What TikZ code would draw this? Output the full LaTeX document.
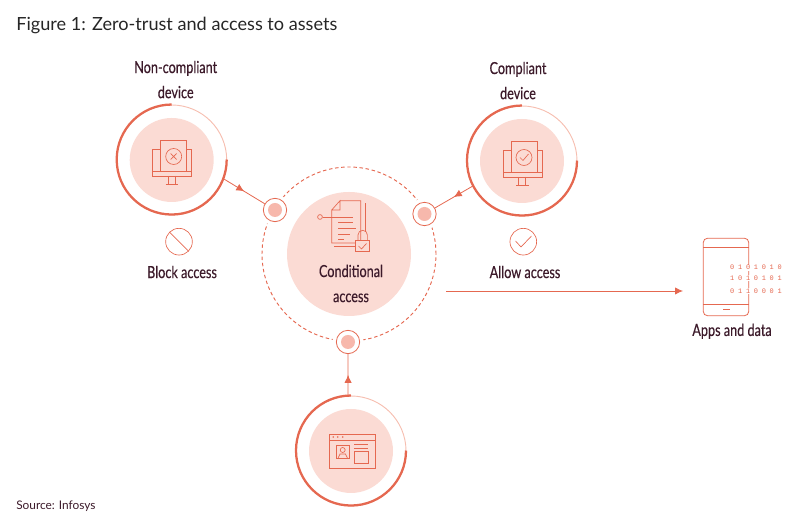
\documentclass[tikz,border=0pt]{standalone}
\usepackage{fontspec}
\usepackage{tikz}
\usetikzlibrary{positioning,arrows.meta,decorations.markings}
\setmainfont{Lato}
\newfontfamily\etroite[FakeStretch=0.76,FakeBold=0.35]{Lato}
\newfontfamily\chiffres[LetterSpace=54]{Liberation Mono}
\definecolor{corail}{RGB}{229,104,80}
\definecolor{saumon}{RGB}{246,190,176}
\definecolor{rosepale}{RGB}{251,219,212}
\definecolor{pointrose}{RGB}{247,184,172}
\definecolor{prune}{RGB}{60,26,42}
\begin{document}
\begin{tikzpicture}[x=0.75pt,y=0.75pt]
        \tikzset{
          anneau/.style={circle,draw=saumon,line width=0.7pt,inner sep=0,minimum size=82.5pt},
          disque/.style={circle,fill=rosepale,inner sep=0,minimum size=63pt},
          arc fort/.style={draw=corail,line width=1.7pt},
          relais/.style={
            circle,draw=corail,fill=white,line width=0.6pt,inner sep=0,minimum size=17.5pt,
            preaction={draw=white,line width=6pt},
          },
          point/.style={circle,fill=pointrose,inner sep=0,minimum size=10.5pt},
          etiquette/.style={align=center,text=prune,inner sep=0,font=\etroite\fontsize{12.5}{18.8}\selectfont},
          icone/.style={draw=corail,line width=0.5pt},
          symbole/.style={circle,draw=corail,line width=0.5pt,inner sep=0,minimum size=20pt},
          fleche/.style={draw=corail,line width=0.6pt},
          fleche milieu/.style={
            fleche,postaction={decorate},
            decoration={markings,mark=at position 0.5 with {\arrow{Latex[length=6pt,width=5.5pt]}}},
          },
          chiffre/.style={text=corail,inner sep=0.5pt,fill=white,font=\chiffres\fontsize{5.2}{6}\selectfont},
          pics/ecran/.style={code={
            \draw[icone] (-19,-11.7) -- (-19,11) -- (-11,11);
            \draw[icone] (20,-11.7) -- (20,11) -- (15,11);
            \draw[icone] (-11,-11.7) -- (-11,19.3) -- (15,19.3) -- (15,-11.7);
            \draw[icone] (-19,-11.7) rectangle (20,-16);
            \draw[icone] (-3.4,-16) -- (-3.4,-24) (3.3,-16) -- (3.3,-24) (-6,-24) -- (6.6,-24);
            \draw[icone] (2,3.5) circle[radius=8];
          }},
        }
        \useasboundingbox (0,0) rectangle (800,530);
        \node[anchor=west,text=black!85,inner sep=0,font=\fontsize{13.6}{16}\selectfont] (titre) at (16,505) {Figure 1: Zero-trust and access to assets};
        \node[anchor=west,text=prune,inner sep=0,font=\fontsize{8.9}{10}\selectfont] (source) at (16,24) {Source: Infosys};

        % cercle central
        \node[circle,draw=corail,line width=0.7pt,dash pattern=on 2.6pt off 2pt,inner sep=0,minimum size=130.5pt] (pointille) at (349,276) {};
        \node[disque,minimum size=93pt] (centre) at (pointille) {};
        \node[etiquette] (conditionnel) at (351,246.5) {Conditional\\access};
        \node[relais] (relaisa) at (275,320) {};
        \node[relais] (relaisb) at (424.5,316) {};
        \node[relais] (relaisc) at (348,188) {};
        \node[point] (pointa) at (relaisa) {};
        \node[point] (pointb) at (relaisb) {};
        \node[point] (pointc) at (relaisc) {};

        % appareils
        \node[anneau] (noncompliant) at (171.7,370) {};
        \node[disque] (disquea) at (noncompliant) {};
        \node[anneau] (compliant) at (522,369) {};
        \node[disque] (disqueb) at (compliant) {};
        \node[anneau] (fenetre) at (351,79) {};
        \node[disque] (disquec) at (fenetre) {};
        \draw[arc fort] (noncompliant.north) arc[start angle=90,delta angle=270,radius=55];
        \draw[arc fort] (compliant.north) arc[start angle=90,delta angle=270,radius=55];
        \draw[arc fort] (fenetre.north) arc[start angle=90,delta angle=270,radius=55];
        \node[etiquette,above=4.5pt of noncompliant,xshift=3pt] (labela) {Non-compliant\\device};
        \node[etiquette,above=4.5pt of compliant,xshift=-3pt] (labelb) {Compliant\\device};

        \pic at (noncompliant) {ecran};
        \pic at (compliant) {ecran};
        \draw[icone] (170.7,370.5) -- (176.7,376.5) (176.7,370.5) -- (170.7,376.5);
        \draw[icone] (520,372.5) -- (523,369.5) -- (528.5,376);

        % symboles
        \node[symbole] (bloque) at (179,288.3) {};
        \draw[icone] (bloque.north west) -- (bloque.south east);
        \node[symbole] (permis) at (523.3,288.3) {};
        \draw[icone] (515.5,289) -- (521,283) -- (531.5,294);
        \node[etiquette] (labelbloque) at (182,258) {Block access};
        \node[etiquette] (labelpermis) at (525,258) {Allow access};

        % icone document
        \draw[icone] (340,329.3) -- (360.7,329.3) -- (360.7,287) -- (331.7,287) -- (331.7,320) -- (340,329.3) -- (340,320) -- (331.7,320);
        \draw[icone] (365,326.7) -- (365,298) (334,283.7) -- (355,283.7);
        \node[circle,icone,inner sep=0,minimum size=3.6pt] (amorce) at (320,313) {};
        \draw[icone] (amorce) -- (353,313);
        \draw[icone] (338,308) -- (353,308) (338,302) -- (356,302) (338,296) -- (350,296) (338,291) -- (344,291);
        \draw[icone,fill=rosepale] (355.7,278.3) rectangle (369.3,290);
        \draw[icone] (358,290) -- (358,295) arc[start angle=180,end angle=0,radius=4.7] -- (367.4,290);
        \draw[icone] (358.5,284) -- (361.5,281) -- (366.5,286.5);

        % icone fenetre
        \draw[icone] (329.3,61.7) rectangle (375,96);
        \draw[icone] (329.3,90) -- (375,90);
        \foreach \dotx in {333.3,337.7,342.7}
          \fill[corail] (\dotx,93) circle[radius=0.9];
        \draw[icone] (336.7,71.7) rectangle (349,85);
        \draw[icone] (342.7,80) circle[radius=2.5];
        \draw[icone] (338,71.7) -- (340,76) -- (345.5,76) -- (347.5,71.7);
        \draw[icone] (354,85.3) -- (368.3,85.3) (354,81.7) -- (368.3,81.7);
        \draw[icone] (354,66.7) rectangle (368.7,78.3);

        % telephone
        \node[draw=corail,line width=0.6pt,rounded corners=3pt,inner sep=0,minimum width=34pt,minimum height=58pt] (telephone) at (726,253) {};
        \draw[icone] (703.3,282.7) -- (748.7,282.7) (703.3,226) -- (748.7,226) (723,220.7) -- (730,220.7);
        \node[chiffre] (ligne) at (756,262.3) {0101010};
        \node[chiffre] (ligneb) at (756,251.7) {1010101};
        \node[chiffre] (lignec) at (756,239) {0110001};
        \node[etiquette,below=5.5pt of telephone,xshift=4.5pt] (labelapps) {Apps and data};

        % connecteurs
        \draw[fleche milieu] (noncompliant.-20) -- (relaisa);
        \draw[fleche milieu] (compliant.207) -- (relaisb);
        \draw[fleche milieu] (fenetre.93) -- (relaisc);
        \coordinate (depart) at (446,239);
        \coordinate (arrivee) at (683,239);
        \draw[fleche,-{Latex[length=6pt,width=5.5pt]}] (depart) -- (arrivee);
      \end{tikzpicture}
\end{document}
